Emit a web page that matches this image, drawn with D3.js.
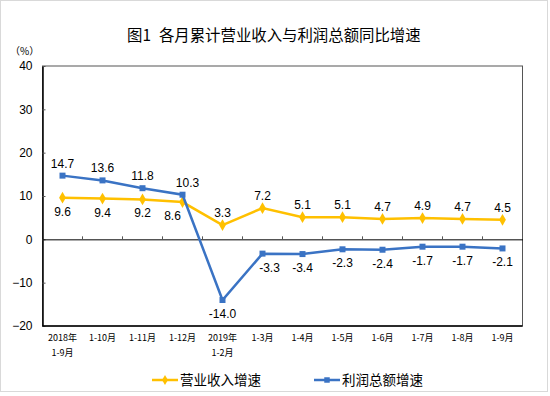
<!DOCTYPE html>
<html>
<head>
<meta charset="utf-8">
<script src="https://cdn.jsdelivr.net/npm/d3@7"></script>
<style>
  body { margin: 0; background: #fff; }
  svg { display: block; font-family: "Liberation Sans", Arial, sans-serif; }
</style>
</head>
<body>
<script>
// data
const months = ["2018年\n1-9月", "1-10月", "1-11月", "1-12月", "2019年\n1-2月", "1-3月", "1-4月", "1-5月", "1-6月", "1-7月", "1-8月", "1-9月"];
const revenue = [9.6, 9.4, 9.2, 8.6, 3.3, 7.2, 5.1, 5.1, 4.7, 4.9, 4.7, 4.5];
const profit = [14.7, 13.6, 11.8, 10.3, -14.0, -3.3, -3.4, -2.3, -2.4, -1.7, -1.7, -2.1];
const yTicks = [-20, -10, 0, 10, 20, 30, 40];
// label placement: 1 = above, -1 = below; dx nudges
const revenuePos = [-1, -1, -1, -1, 1, 1, 1, 1, 1, 1, 1, 1];
const revenueDx = [0, 0, 0, -10, 0, 0, 0, 0, 0, 0, 0, 0];
const profitPos = [1, 1, 1, 1, -1, -1, -1, -1, -1, -1, -1, -1];
const profitDx = [0, 0, 0, 5, 0, 7, 0, 0, 0, 0, 0, 0];

const width = 550;
const height = 396;
const marginLeft = 42.5;
const marginRight = 27.5;
const marginTop = 66;
const marginBottom = 70;

const yellow = "#FFC000";
const blue = "#3A73C4";
const cjk = "'Noto Sans CJK SC', sans-serif";

const svg = d3.select("body").append("svg")
    .attr("width", width)
    .attr("height", height);

// outer border
svg.append("rect")
    .attr("x", 0.5).attr("y", 0.5)
    .attr("width", width - 3).attr("height", height - 5)
    .attr("fill", "none").attr("stroke", "#d9d9d9");

// SCALES
const x = d3.scaleBand().domain(months).range([marginLeft, width - marginRight]);
const y = d3.scaleLinear().domain([-20, 40]).range([height - marginBottom, marginTop]);
const cx = d => x(d) + x.bandwidth() / 2;

// TITLE
const title = svg.append("text")
    .attr("y", 41)
    .style("font-family", cjk)
    .style("font-size", "15.4px");
title.append("tspan").attr("x", 127).text("图1");
title.append("tspan").attr("dx", 8).text("各月累计营业收入与利润总额同比增速");

svg.append("text")
    .attr("x", 10).attr("y", 55)
    .style("font-family", cjk)
    .style("font-size", "10px")
    .text("（%）");

// frame
svg.append("rect")
    .attr("x", marginLeft).attr("y", marginTop)
    .attr("width", width - marginLeft - marginRight)
    .attr("height", height - marginTop - marginBottom)
    .attr("fill", "none").attr("stroke", "#555").attr("stroke-width", 1);

// Y AXIS
const yAxis = svg.append("g")
    .attr("transform", `translate(${marginLeft},0)`)
    .call(d3.axisLeft(y).tickValues(yTicks).tickSizeInner(-3).tickSizeOuter(0).tickPadding(10));
yAxis.select(".domain").attr("stroke", "#000").attr("stroke-width", 1.5);
yAxis.selectAll(".tick line").attr("stroke", "#555");
yAxis.selectAll("text").style("font-size", "12px").attr("fill", "#000");

// zero line with category ticks
const xAxis = svg.append("g")
    .attr("transform", `translate(0,${y(0)})`)
    .call(d3.axisTop(x).tickSize(0).tickFormat(""));
xAxis.select(".domain").attr("stroke", "#000");
svg.append("g")
    .selectAll("line")
    .data(months.slice(1))
    .join("line")
    .attr("x1", d => x(d)).attr("x2", d => x(d))
    .attr("y1", y(0)).attr("y2", y(0) - 3)
    .attr("stroke", "#555");

// bottom line
svg.append("line")
    .attr("x1", marginLeft).attr("x2", width - marginRight)
    .attr("y1", y(-20)).attr("y2", y(-20))
    .attr("stroke", "#000").attr("stroke-width", 1.5);

// category labels
const catLabels = svg.append("g")
    .style("font-family", cjk)
    .style("font-size", "9px");
months.forEach(m => {
    const lines = m.split("\n");
    const t = catLabels.append("text")
        .attr("x", cx(m)).attr("y", y(-20) + 15)
        .attr("text-anchor", "middle");
    lines.forEach((l, i) => {
        t.append("tspan").attr("x", cx(m)).attr("dy", i === 0 ? 0 : 15).text(l);
    });
});

// LINES
const line = d3.line().x((d, i) => cx(months[i])).y(d => y(d));

function drawSeries(values, color, marker, pos, dx) {
    svg.append("path")
        .datum(values)
        .attr("d", line)
        .attr("fill", "none")
        .attr("stroke", color)
        .attr("stroke-width", 2.5);
    svg.append("g")
        .selectAll("path")
        .data(values)
        .join("path")
        .attr("transform", (d, i) => `translate(${cx(months[i])},${y(d)})`)
        .attr("d", d3.symbol().type(marker).size(marker === d3.symbolDiamond ? 40 : 36))
        .attr("fill", color);
    svg.append("g")
        .selectAll("text")
        .data(values)
        .join("text")
        .attr("x", (d, i) => cx(months[i]) + dx[i])
        .attr("y", (d, i) => y(d) + (pos[i] > 0 ? -8 : 18))
        .attr("text-anchor", "middle")
        .style("font-size", "12px")
        .text(d => d.toFixed(1));
}

drawSeries(revenue, yellow, d3.symbolDiamond, revenuePos, revenueDx);
drawSeries(profit, blue, d3.symbolSquare, profitPos, profitDx);

// LEGEND
const legend = [
    { name: "营业收入增速", color: yellow, marker: d3.symbolDiamond, x: 152 },
    { name: "利润总额增速", color: blue, marker: d3.symbolSquare, x: 314 }
];
const lg = svg.append("g");
legend.forEach(l => {
    lg.append("line")
        .attr("x1", l.x).attr("x2", l.x + 26)
        .attr("y1", 380).attr("y2", 380)
        .attr("stroke", l.color).attr("stroke-width", 2.5);
    lg.append("path")
        .attr("transform", `translate(${l.x + 13},380)`)
        .attr("d", d3.symbol().type(l.marker).size(30))
        .attr("fill", l.color);
    lg.append("text")
        .attr("x", l.x + 28).attr("y", 385)
        .style("font-family", cjk)
        .style("font-size", "13.5px")
        .text(l.name);
});
</script>
</body>
</html>
